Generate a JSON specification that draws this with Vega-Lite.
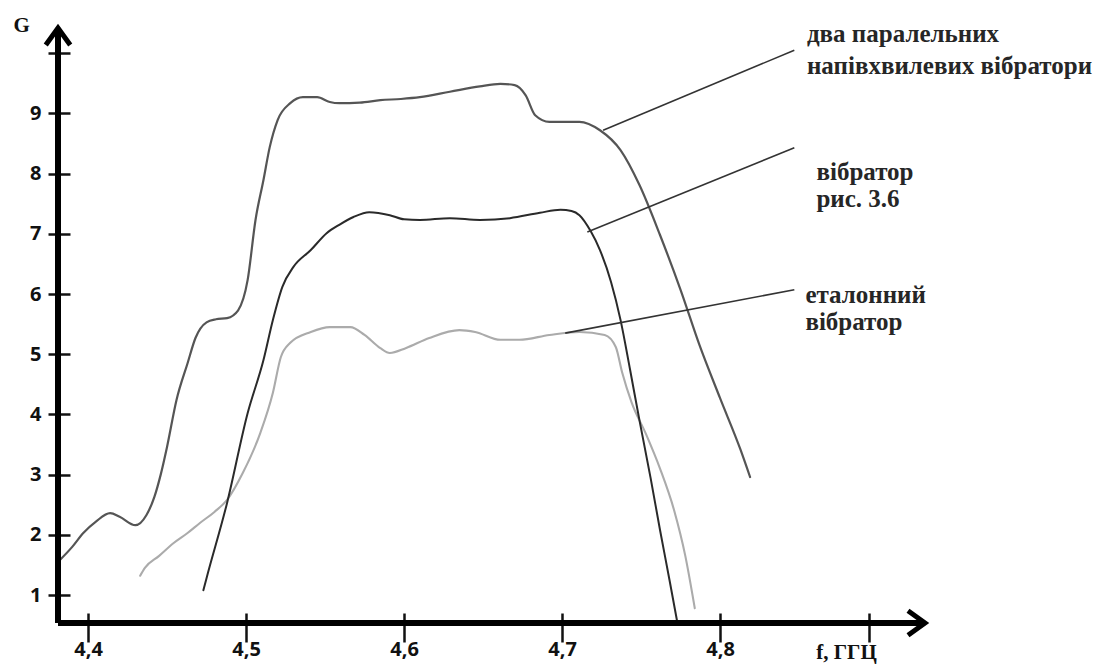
{
  "$schema": "https://vega.github.io/schema/vega-lite/v6.json",
  "width": 867,
  "height": 595,
  "autosize": {"type": "none"},
  "padding": {"left": 58, "top": 28, "right": 173, "bottom": 41},
  "background": "white",
  "config": {"view": {"stroke": null}},
  "datasets": {
    "curves": [
      {"series": "top", "f": 4.381, "G": 1.55}, {"series": "top", "f": 4.390, "G": 1.80}, {"series": "top", "f": 4.397, "G": 2.03},
      {"series": "top", "f": 4.405, "G": 2.22}, {"series": "top", "f": 4.414, "G": 2.36}, {"series": "top", "f": 4.420, "G": 2.30},
      {"series": "top", "f": 4.430, "G": 2.16}, {"series": "top", "f": 4.437, "G": 2.33}, {"series": "top", "f": 4.442, "G": 2.63},
      {"series": "top", "f": 4.446, "G": 3.00}, {"series": "top", "f": 4.450, "G": 3.46}, {"series": "top", "f": 4.456, "G": 4.24},
      {"series": "top", "f": 4.463, "G": 4.85}, {"series": "top", "f": 4.468, "G": 5.27}, {"series": "top", "f": 4.475, "G": 5.53},
      {"series": "top", "f": 4.481, "G": 5.58}, {"series": "top", "f": 4.488, "G": 5.60}, {"series": "top", "f": 4.495, "G": 5.73},
      {"series": "top", "f": 4.501, "G": 6.23}, {"series": "top", "f": 4.506, "G": 7.23}, {"series": "top", "f": 4.511, "G": 7.89},
      {"series": "top", "f": 4.515, "G": 8.44}, {"series": "top", "f": 4.520, "G": 8.89}, {"series": "top", "f": 4.528, "G": 9.17},
      {"series": "top", "f": 4.536, "G": 9.27}, {"series": "top", "f": 4.545, "G": 9.27}, {"series": "top", "f": 4.553, "G": 9.19},
      {"series": "top", "f": 4.559, "G": 9.17}, {"series": "top", "f": 4.572, "G": 9.18}, {"series": "top", "f": 4.585, "G": 9.22},
      {"series": "top", "f": 4.598, "G": 9.24}, {"series": "top", "f": 4.610, "G": 9.27}, {"series": "top", "f": 4.629, "G": 9.36},
      {"series": "top", "f": 4.648, "G": 9.45}, {"series": "top", "f": 4.661, "G": 9.49}, {"series": "top", "f": 4.670, "G": 9.47},
      {"series": "top", "f": 4.677, "G": 9.30}, {"series": "top", "f": 4.683, "G": 8.97}, {"series": "top", "f": 4.692, "G": 8.86},
      {"series": "top", "f": 4.711, "G": 8.86}, {"series": "top", "f": 4.724, "G": 8.72}, {"series": "top", "f": 4.737, "G": 8.39},
      {"series": "top", "f": 4.749, "G": 7.81}, {"series": "top", "f": 4.762, "G": 6.98}, {"series": "top", "f": 4.775, "G": 6.07},
      {"series": "top", "f": 4.787, "G": 5.15}, {"series": "top", "f": 4.800, "G": 4.27}, {"series": "top", "f": 4.813, "G": 3.41},
      {"series": "top", "f": 4.819, "G": 2.96},
      {"series": "light", "f": 4.433, "G": 1.32}, {"series": "light", "f": 4.436, "G": 1.45}, {"series": "light", "f": 4.445, "G": 1.65},
      {"series": "light", "f": 4.454, "G": 1.86}, {"series": "light", "f": 4.463, "G": 2.03}, {"series": "light", "f": 4.471, "G": 2.20},
      {"series": "light", "f": 4.480, "G": 2.38}, {"series": "light", "f": 4.488, "G": 2.58}, {"series": "light", "f": 4.498, "G": 3.03},
      {"series": "light", "f": 4.509, "G": 3.69}, {"series": "light", "f": 4.517, "G": 4.36}, {"series": "light", "f": 4.522, "G": 4.95},
      {"series": "light", "f": 4.528, "G": 5.19}, {"series": "light", "f": 4.541, "G": 5.37}, {"series": "light", "f": 4.553, "G": 5.45},
      {"series": "light", "f": 4.566, "G": 5.45}, {"series": "light", "f": 4.575, "G": 5.32}, {"series": "light", "f": 4.585, "G": 5.10},
      {"series": "light", "f": 4.591, "G": 5.02}, {"series": "light", "f": 4.601, "G": 5.10}, {"series": "light", "f": 4.616, "G": 5.27},
      {"series": "light", "f": 4.635, "G": 5.40}, {"series": "light", "f": 4.645, "G": 5.37}, {"series": "light", "f": 4.661, "G": 5.24},
      {"series": "light", "f": 4.673, "G": 5.24}, {"series": "light", "f": 4.692, "G": 5.32}, {"series": "light", "f": 4.711, "G": 5.37},
      {"series": "light", "f": 4.727, "G": 5.32}, {"series": "light", "f": 4.734, "G": 5.12}, {"series": "light", "f": 4.738, "G": 4.70},
      {"series": "light", "f": 4.744, "G": 4.20}, {"series": "light", "f": 4.753, "G": 3.68}, {"series": "light", "f": 4.762, "G": 3.10},
      {"series": "light", "f": 4.771, "G": 2.40}, {"series": "light", "f": 4.778, "G": 1.65}, {"series": "light", "f": 4.784, "G": 0.78},
      {"series": "dark", "f": 4.473, "G": 1.08}, {"series": "dark", "f": 4.475, "G": 1.28}, {"series": "dark", "f": 4.488, "G": 2.53},
      {"series": "dark", "f": 4.501, "G": 4.02}, {"series": "dark", "f": 4.511, "G": 4.90}, {"series": "dark", "f": 4.517, "G": 5.57},
      {"series": "dark", "f": 4.523, "G": 6.12}, {"series": "dark", "f": 4.530, "G": 6.45}, {"series": "dark", "f": 4.541, "G": 6.73},
      {"series": "dark", "f": 4.551, "G": 7.01}, {"series": "dark", "f": 4.559, "G": 7.15}, {"series": "dark", "f": 4.568, "G": 7.28},
      {"series": "dark", "f": 4.578, "G": 7.36}, {"series": "dark", "f": 4.591, "G": 7.31}, {"series": "dark", "f": 4.600, "G": 7.24},
      {"series": "dark", "f": 4.610, "G": 7.23}, {"series": "dark", "f": 4.629, "G": 7.26}, {"series": "dark", "f": 4.648, "G": 7.23},
      {"series": "dark", "f": 4.667, "G": 7.26}, {"series": "dark", "f": 4.686, "G": 7.35}, {"series": "dark", "f": 4.699, "G": 7.40},
      {"series": "dark", "f": 4.706, "G": 7.38}, {"series": "dark", "f": 4.711, "G": 7.31}, {"series": "dark", "f": 4.718, "G": 7.05},
      {"series": "dark", "f": 4.724, "G": 6.73}, {"series": "dark", "f": 4.731, "G": 6.20}, {"series": "dark", "f": 4.737, "G": 5.57},
      {"series": "dark", "f": 4.743, "G": 4.75}, {"series": "dark", "f": 4.749, "G": 3.90}, {"series": "dark", "f": 4.756, "G": 2.95},
      {"series": "dark", "f": 4.762, "G": 2.08}, {"series": "dark", "f": 4.768, "G": 1.25}, {"series": "dark", "f": 4.773, "G": 0.54}
    ],
    "leaders": [
      {"f": 4.726, "G": 8.72, "f2": 4.847, "G2": 10.05},
      {"f": 4.716, "G": 7.03, "f2": 4.847, "G2": 8.43},
      {"f": 4.702, "G": 5.35, "f2": 4.847, "G2": 6.07}
    ],
    "notes": [
      {"label": "два паралельних", "f": 4.855, "G": 10.19},
      {"label": "напівхвилевих вібратори", "f": 4.855, "G": 9.65},
      {"label": "вібратор", "f": 4.861, "G": 7.89},
      {"label": "рис. 3.6", "f": 4.861, "G": 7.45},
      {"label": "еталонний", "f": 4.854, "G": 5.85},
      {"label": "вібратор", "f": 4.854, "G": 5.40}
    ],
    "axisnames": [
      {"label": "G", "f": 4.358, "G": 10.45, "pos": "c"},
      {"label": "f, ГГЦ", "f": 4.880, "G": 0.04, "pos": "l"}
    ]
  },
  "layer": [
    {
      "data": {"name": "curves"},
      "mark": {"type": "line", "interpolate": "monotone", "strokeCap": "round", "strokeJoin": "round"},
      "encoding": {
        "x": {
          "field": "f", "type": "quantitative", "title": null,
          "scale": {"domain": [4.381, 4.9297], "nice": false, "zero": false},
          "axis": {
            "values": [4.4, 4.5, 4.6, 4.7, 4.8, 4.894],
            "labelExpr": "datum.value > 4.85 ? '' : replace(format(datum.value, '.1f'), '.', ',')",
            "domain": false, "grid": false, "offset": -10, "tickSize": 29, "tickWidth": 2.5, "tickColor": "#111",
            "labelPadding": 13, "labelBaseline": "alphabetic", "labelFont": "Open Sans", "labelFontWeight": "bold",
            "labelFontSize": 20, "labelColor": "#111", "labelFlush": false, "labelOverlap": false
          }
        },
        "y": {
          "field": "G", "type": "quantitative", "title": null,
          "scale": {"domain": [0.535, 10.419], "nice": false, "zero": false},
          "axis": {
            "values": [1, 2, 3, 4, 5, 6, 7, 8, 9, 10],
            "labelExpr": "datum.value == 10 ? '' : format(datum.value, 'd')",
            "domain": false, "grid": false, "offset": -12, "tickSize": 22, "tickWidth": 2.5, "tickColor": "#111",
            "labelPadding": 7, "labelFont": "Open Sans", "labelFontWeight": "bold",
            "labelFontSize": 20, "labelColor": "#111", "labelOverlap": false
          }
        },
        "color": {
          "field": "series", "type": "nominal", "legend": null,
          "scale": {"domain": ["top", "light", "dark"], "range": ["#555555", "#ababab", "#2a2a2a"]}
        },
        "strokeWidth": {
          "field": "series", "type": "nominal", "legend": null,
          "scale": {"domain": ["top", "light", "dark"], "range": [2.2, 2, 2.6]}
        }
      }
    },
    {
      "data": {"name": "leaders"},
      "mark": {"type": "rule", "color": "#333333", "strokeWidth": 1.6},
      "encoding": {
        "x": {"field": "f", "type": "quantitative", "title": null},
        "y": {"field": "G", "type": "quantitative", "title": null},
        "x2": {"field": "f2"},
        "y2": {"field": "G2"}
      }
    },
    {
      "data": {"name": "notes"},
      "mark": {"type": "text", "align": "left", "baseline": "alphabetic", "font": "Liberation Serif", "fontWeight": "bold", "fontSize": 25, "color": "#262626"},
      "encoding": {
        "x": {"field": "f", "type": "quantitative", "title": null},
        "y": {"field": "G", "type": "quantitative", "title": null},
        "text": {"field": "label"}
      }
    },
    {
      "data": {"name": "axisnames"},
      "mark": {"type": "text", "font": "Liberation Serif", "fontWeight": "bold", "fontSize": 21, "color": "#111"},
      "encoding": {
        "x": {"field": "f", "type": "quantitative", "title": null},
        "y": {"field": "G", "type": "quantitative", "title": null},
        "text": {"field": "label"},
        "align": {"condition": {"test": "datum.pos == 'c'", "value": "center"}, "value": "left"},
        "baseline": {"condition": {"test": "datum.pos == 'c'", "value": "middle"}, "value": "alphabetic"}
      }
    },
    {
      "data": {"values": [{}]},
      "mark": {"type": "rule", "color": "#000", "strokeWidth": 6},
      "encoding": {"y": {"datum": 0.535, "type": "quantitative"}}
    },
    {
      "data": {"values": [{}]},
      "mark": {"type": "rule", "color": "#000", "strokeWidth": 6},
      "encoding": {"x": {"datum": 4.381, "type": "quantitative"}}
    },
    {
      "data": {"values": [{}]},
      "mark": {"type": "point", "shape": "M-1,-0.72L0,0L-1,0.72", "filled": false, "size": 1156, "stroke": "#000", "strokeWidth": 5, "opacity": 1},
      "encoding": {"x": {"datum": 4.9297, "type": "quantitative"}, "y": {"datum": 0.535, "type": "quantitative"}}
    },
    {
      "data": {"values": [{}]},
      "mark": {"type": "point", "shape": "M-0.72,1L0,0L0.72,1", "filled": false, "size": 1156, "stroke": "#000", "strokeWidth": 5, "opacity": 1},
      "encoding": {"x": {"datum": 4.381, "type": "quantitative"}, "y": {"datum": 10.419, "type": "quantitative"}}
    }
  ]
}
